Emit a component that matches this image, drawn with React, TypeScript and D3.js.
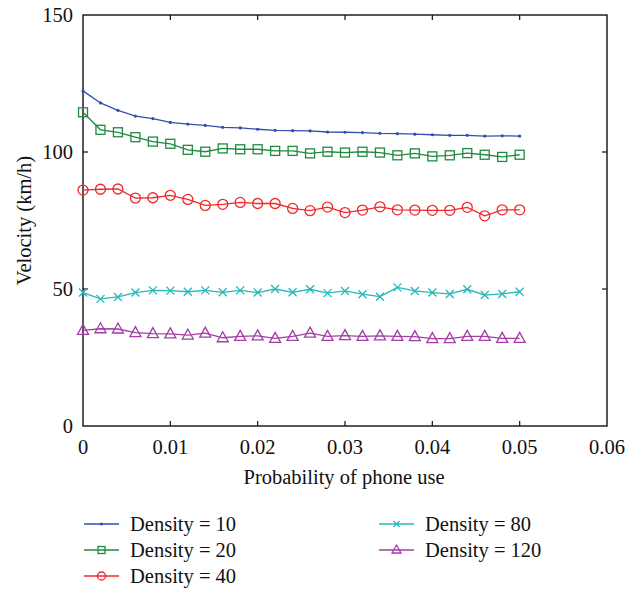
import React from "react";
import * as d3 from "d3";

// x values: probability of phone use
const probabilities = [
  0, 0.002, 0.004, 0.006, 0.008, 0.01, 0.012, 0.014, 0.016, 0.018, 0.02, 0.022, 0.024,
  0.026, 0.028, 0.03, 0.032, 0.034, 0.036, 0.038, 0.04, 0.042, 0.044, 0.046, 0.048, 0.05,
];

const density10 = [
  122.3, 117.9, 115.2, 113.1, 112.2, 110.8, 110.2, 109.7, 109.0, 108.8, 108.3, 107.9, 107.8,
  107.7, 107.3, 107.2, 107.1, 106.8, 106.7, 106.5, 106.3, 106.1, 106.1, 105.8, 105.9, 105.8,
];
const density20 = [
  114.5, 108.1, 107.2, 105.4, 103.8, 103.0, 100.8, 100.1, 101.3, 101.0, 101.0, 100.4, 100.4,
  99.5, 100.1, 99.8, 100.1, 99.8, 98.8, 99.5, 98.4, 98.8, 99.6, 99.0, 98.2, 99.0,
];
const density40 = [
  86.1, 86.4, 86.5, 83.2, 83.3, 84.2, 82.7, 80.5, 80.9, 81.6, 81.2, 81.2, 79.4,
  78.6, 79.9, 77.9, 78.8, 80.0, 78.9, 78.8, 78.7, 78.7, 79.8, 76.7, 78.9, 78.9,
];
const density80 = [
  48.7, 46.4, 47.1, 48.7, 49.5, 49.4, 49.0, 49.5, 48.8, 49.5, 48.7, 50.0, 48.8,
  49.9, 48.5, 49.3, 48.1, 47.2, 50.6, 49.3, 48.7, 48.2, 49.9, 47.8, 48.2, 49.0,
];
const density120 = [
  34.9, 35.5, 35.4, 34.1, 33.7, 33.6, 33.2, 33.9, 32.2, 32.7, 32.9, 32.0, 32.7,
  33.9, 32.7, 33.0, 32.7, 32.9, 32.7, 32.6, 31.9, 31.9, 32.7, 32.7, 32.0, 32.0,
];

const seriesNames = ["Density = 10", "Density = 20", "Density = 40", "Density = 80", "Density = 120"];
const seriesColors = ["#2f4fb0", "#1f8a3e", "#f0282a", "#28b8b8", "#a23ea6"];
const seriesMarkers = ["dot", "square", "circle", "cross", "triangle"];

const xTicks = [0, 0.01, 0.02, 0.03, 0.04, 0.05, 0.06];
const yTicks = [0, 50, 100, 150];

const textStyle = { fontFamily: "Liberation Serif", fontSize: 20.5 };

const left = 83, right = 607, top = 15, bottom = 426;
const x = d3.scaleLinear().domain([0, 0.06]).range([left, right]);
const y = d3.scaleLinear().domain([0, 150]).range([bottom, top]);

function Marker({ kind, color, size, cx, cy }) {
  const s = size;
  const common = { fill: "none", stroke: color, strokeWidth: 1.3 };
  let el = null;
  if (kind === "dot") el = <circle r={1.6} fill={color} />;
  else if (kind === "square") el = <rect x={-s / 2} y={-s / 2} width={s} height={s} {...common} />;
  else if (kind === "circle") el = <circle r={s / 2 + 0.5} {...common} />;
  else if (kind === "cross") {
    const h = s / 2 - 0.5;
    el = <path d={`M${-h},${-h}L${h},${h}M${-h},${h}L${h},${-h}`} {...common} />;
  } else if (kind === "triangle") {
    const h = s / 2 + 0.5;
    el = <path d={`M0,${-h - 1}L${h + 0.5},${h - 1}L${-h - 0.5},${h - 1}Z`} {...common} />;
  }
  return <g transform={`translate(${cx},${cy})`}>{el}</g>;
}

export default function App() {
  const allSeries = [density10, density20, density40, density80, density120];
  const line = d3.line().x((d, i) => x(probabilities[i])).y(d => y(d));
  const fmt = d => (d === 0 ? "0" : d3.format(".2f")(d));

  const legendPos = [
    [84, 524], [84, 550], [84, 576], [379, 524], [379, 550],
  ];

  return (
    <svg width={638} height={590} style={{ position: "absolute", left: 0, top: 0, background: "#fff" }}>
      {/* frame */}
      <rect x={left} y={top} width={right - left} height={bottom - top} fill="none" stroke="#111" strokeWidth={1.4} />

      {/* x ticks bottom + top */}
      {xTicks.map(t => (
        <g key={"x" + t}>
          {t > 0 && t < 0.06 && (
            <>
              <line x1={x(t)} x2={x(t)} y1={bottom} y2={bottom - 5} stroke="#111" strokeWidth={1.2} />
              <line x1={x(t)} x2={x(t)} y1={top} y2={top + 5} stroke="#111" strokeWidth={1.2} />
            </>
          )}
          <text x={x(t)} y={bottom + 28} textAnchor="middle" fill="#111" style={textStyle}>{fmt(t)}</text>
        </g>
      ))}

      {/* y ticks left + right */}
      {yTicks.map(t => (
        <g key={"y" + t}>
          {t > 0 && t < 150 && (
            <>
              <line x1={left} x2={left + 5} y1={y(t)} y2={y(t)} stroke="#111" strokeWidth={1.2} />
              <line x1={right} x2={right - 5} y1={y(t)} y2={y(t)} stroke="#111" strokeWidth={1.2} />
            </>
          )}
          <text x={left - 10} y={y(t) + 7} textAnchor="end" fill="#111" style={textStyle}>{t}</text>
        </g>
      ))}

      {/* axis titles */}
      <text x={(left + right) / 2 - 1} y={484} textAnchor="middle" fill="#111" style={textStyle}>Probability of phone use</text>
      <text transform={`translate(31,${(top + bottom) / 2}) rotate(-90)`} textAnchor="middle" fill="#111" style={textStyle}>Velocity (km/h)</text>

      {/* series */}
      {allSeries.map((vals, si) => (
        <g key={"s" + si}>
          <path d={line(vals)} fill="none" stroke={seriesColors[si]} strokeWidth={1.3} />
          {vals.map((v, i) => (
            <Marker key={i} kind={seriesMarkers[si]} color={seriesColors[si]} size={9} cx={x(probabilities[i])} cy={y(v)} />
          ))}
        </g>
      ))}

      {/* legend */}
      {seriesNames.map((name, si) => {
        const [lx, ly] = legendPos[si];
        return (
          <g key={name}>
            <line x1={lx} x2={lx + 35} y1={ly} y2={ly} stroke={seriesColors[si]} strokeWidth={1.3} />
            <Marker kind={seriesMarkers[si]} color={seriesColors[si]} size={7} cx={lx + 17.5} cy={ly} />
            <text x={lx + 46} y={ly + 7} fill="#111" style={textStyle}>{name}</text>
          </g>
        );
      })}
    </svg>
  );
}
